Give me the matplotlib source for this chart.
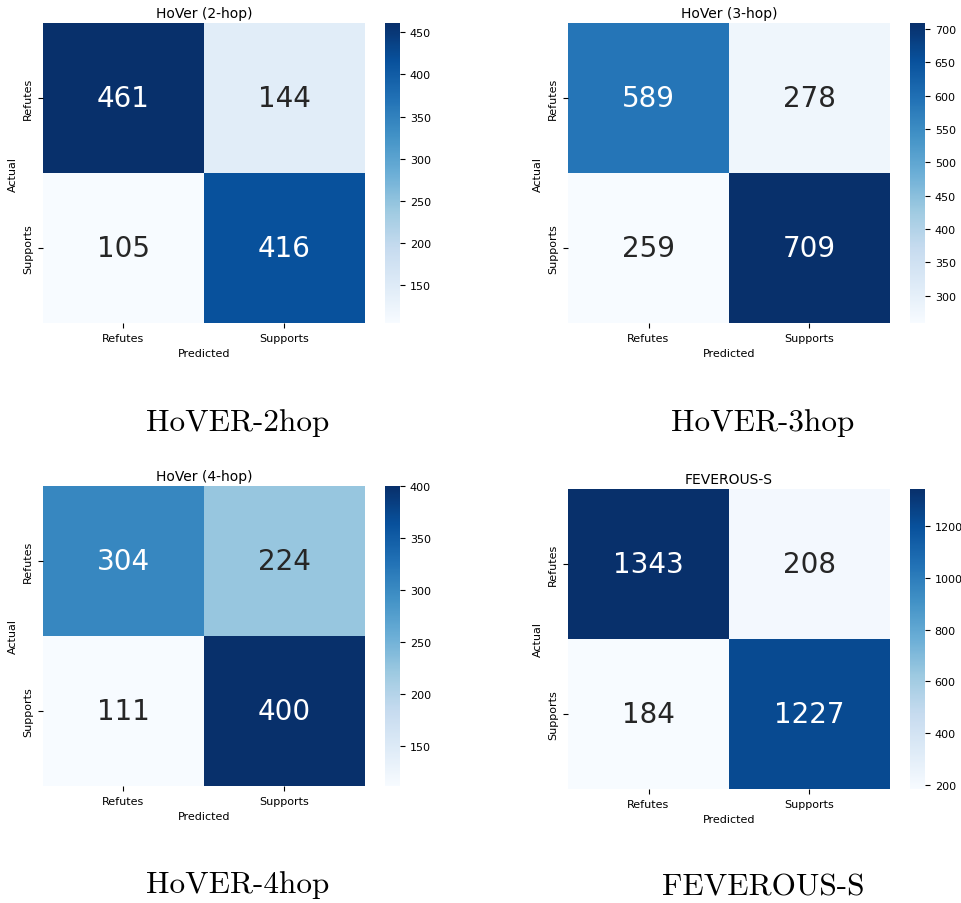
import numpy as np
import matplotlib
matplotlib.use("Agg")
import matplotlib.pyplot as plt
import seaborn as sns

labels = ["Refutes", "Supports"]

hover_2hop = [[461, 144],
              [105, 416]]
hover_3hop = [[589, 278],
              [259, 709]]
hover_4hop = [[304, 224],
              [111, 400]]
feverous_s = [[1343, 208],
              [184, 1227]]

titles = ["HoVer (2-hop)", "HoVer (3-hop)", "HoVer (4-hop)", "FEVEROUS-S"]
captions = ["HoVER-2hop", "HoVER-3hop", "HoVER-4hop", "FEVEROUS-S"]
matrices = [hover_2hop, hover_3hop, hover_4hop, feverous_s]

W, H = 962, 904
fig = plt.figure(figsize=(W / 100, H / 100), dpi=100)

# pixel boxes: (left, top) of the heatmap, colorbar left, caption centre
panels = [
    dict(x=43, y=24, cbx=385, cap=(238, 423)),
    dict(x=568, y=24, cbx=910, cap=(763, 423)),
    dict(x=43, y=487, cbx=385, cap=(238, 885)),
    dict(x=568, y=490, cbx=910, cap=(763, 888)),
]
hm_w, hm_h, cb_w = 322, 300, 15


def px_box(x, y, w, h):
    return [x / W, 1 - (y + h) / H, w / W, h / H]


for mat, title, caption, p in zip(matrices, titles, captions, panels):
    ax = fig.add_axes(px_box(p["x"], p["y"], hm_w, hm_h))
    cax = fig.add_axes(px_box(p["cbx"], p["y"], cb_w, hm_h))
    sns.heatmap(np.array(mat), annot=True, fmt="d", cmap="Blues",
                xticklabels=labels, yticklabels=labels,
                annot_kws={"size": 20}, ax=ax, cbar_ax=cax)
    ax.set_title(title, fontsize=10, pad=4)
    ax.set_xlabel("Predicted", fontsize=8)
    ax.set_ylabel("Actual", fontsize=8)
    ax.tick_params(labelsize=8)
    plt.setp(ax.get_yticklabels(), rotation=90, va="center")
    cax.tick_params(labelsize=8)
    cx, cy = p["cap"]
    fig.text(cx / W, 1 - cy / H, caption, family="cmr10",
             fontsize=22.5, ha="center", va="center")

fig.savefig("out.png", dpi=100)
